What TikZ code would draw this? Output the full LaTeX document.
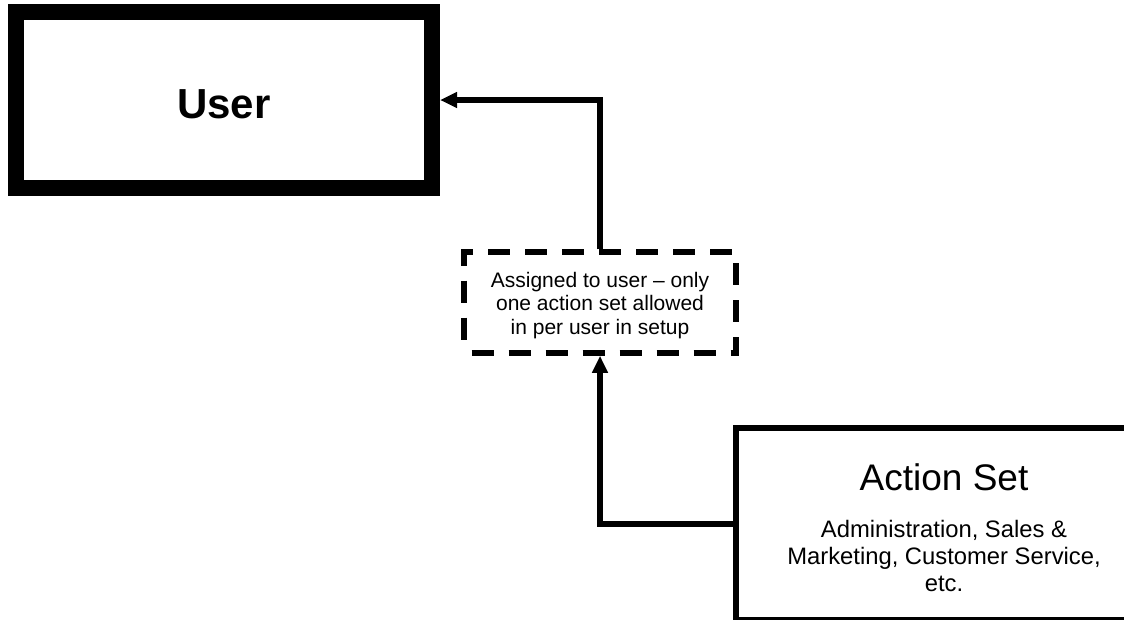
\documentclass[tikz,border=0pt]{standalone}
\usepackage{fontspec}
\setmainfont{Liberation Sans}
\usetikzlibrary{arrows.meta}
\begin{document}
\begin{tikzpicture}[x=1pt,y=-1pt,
  userbox/.style={draw, line width=16pt, minimum width=416pt, minimum height=176pt, inner sep=0pt,
    font=\fontsize{42}{48}\selectfont\bfseries, text height=36pt, text depth=0pt},
  notebox/.style={draw, line width=5.5pt, dash pattern=on 22pt off 15pt, dash phase=29.5pt,
    minimum width=272pt, minimum height=101pt, inner sep=0pt, align=center,
    font=\fontsize{21}{23.5}\selectfont},
  setbox/.style={draw, line width=5.5pt, minimum width=416pt, minimum height=192pt, inner sep=0pt},
  titletext/.style={font=\fontsize{37}{44}\selectfont, anchor=base, inner sep=0pt},
  desctext/.style={font=\fontsize{23.8}{26.7}\selectfont, align=center, inner sep=0pt},
  conn/.style={line width=5.5pt, -{Triangle[length=17pt,width=15pt]}},
]
\useasboundingbox (0,0) rectangle (1124,619);
\clip (0,0) rectangle (1124,619);
\node[userbox] (user) at (224,100) {User};
\node[notebox] (note) at (600,302.5) {\rule{0pt}{21pt}Assigned to user – only\\one action set allowed\\in per user in setup};
\node[setbox] (aset) at (944,524) {};
\node[titletext] (asettitle) at (944,490) {Action Set};
\node[desctext] (asetdesc) at (944,556) {Administration, Sales \&\\Marketing, Customer Service,\\etc.};
\draw[conn] (aset.west) -| (note.south);
\draw[conn] (note.north) |- (user.east);
\end{tikzpicture}
\end{document}
